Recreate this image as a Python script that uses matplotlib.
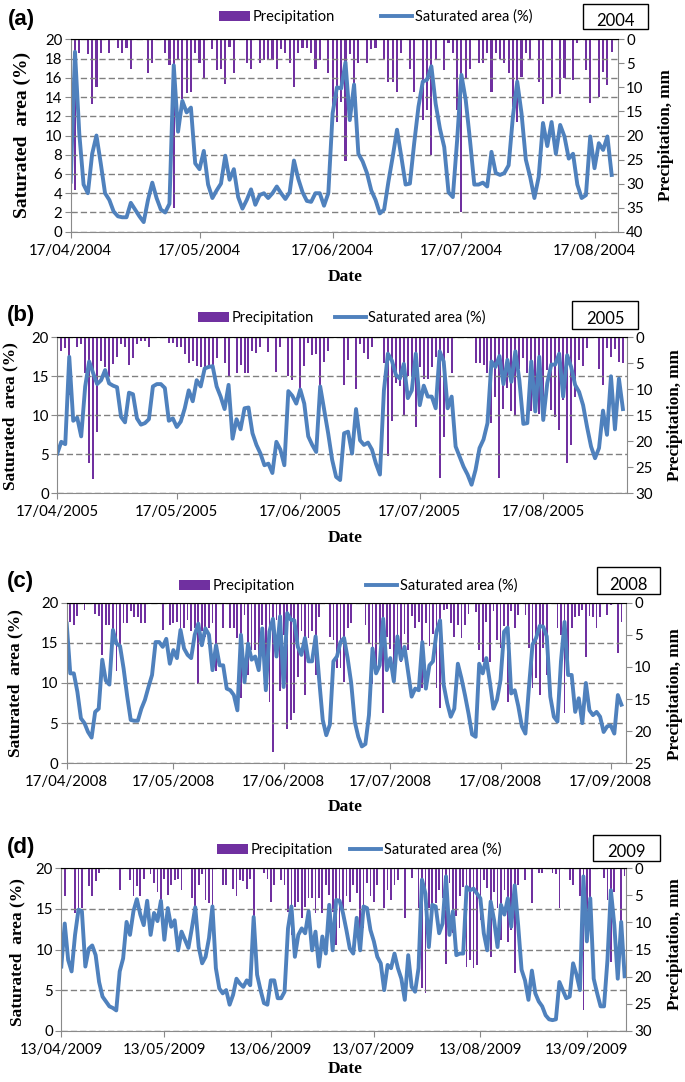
import numpy as np
import pandas as pd
import matplotlib
matplotlib.use("Agg")
import matplotlib.pyplot as plt
import matplotlib.dates as mdates
from matplotlib.patches import Rectangle

plt.rcParams["font.family"] = ["Lato", "DejaVu Sans"]

BLUE = "#4F81BD"
PURPLE = "#7030A0"
GREY = "#8a8a8a"

# ---------------- data (daily values) ----------------
# (a) 2004
sat_2004 = [5.2, 18.7, 10.2, 4.9, 4.0, 8.1, 10.0, 7.1, 4.0, 3.3,
            2.1, 1.6, 1.5, 1.5, 3.0, 2.3, 1.6, 1.0, 3.3, 5.1,
            3.5, 2.3, 2.0, 2.9, 17.3, 10.4, 13.6, 12.4, 12.9, 7.1,
            6.5, 8.4, 4.9, 3.5, 4.3, 5.0, 7.9, 5.4, 6.5, 3.6,
            2.4, 3.3, 4.4, 2.8, 3.8, 4.0, 3.5, 4.0, 4.7, 4.0,
            3.4, 4.1, 7.4, 5.5, 4.1, 3.2, 3.1, 4.0, 4.0, 2.7,
            4.0, 12.3, 15.0, 14.9, 17.6, 11.6, 15.3, 8.1, 7.3, 6.1,
            4.3, 3.3, 1.9, 2.3, 5.2, 7.8, 10.6, 7.8, 4.9, 5.0,
            9.2, 13.0, 15.6, 15.8, 17.2, 13.3, 10.7, 8.8, 4.1, 3.6,
            9.5, 16.3, 13.7, 9.5, 4.9, 4.9, 5.1, 4.7, 8.3, 6.1,
            5.9, 6.1, 6.9, 12.0, 15.6, 12.3, 7.5, 5.7, 3.5, 5.7,
            11.3, 8.9, 11.4, 8.1, 11.1, 9.9, 7.6, 8.1, 4.9, 3.5,
            3.8, 9.9, 6.6, 9.2, 8.5, 9.9, 5.9]
rain_day_2004 = [1, 2, 4, 5, 6, 7, 9, 11, 12, 13, 14, 18, 19, 22, 23, 24, 25, 26, 27, 28,
                 29, 30, 31, 33, 34, 35, 36, 37, 38, 41, 42, 44, 45, 46, 47, 48, 49, 50, 51, 52,
                 53, 54, 55, 56, 57, 58, 60, 61, 62, 63, 64, 65, 66, 67, 69, 70, 71, 73, 74, 75,
                 76, 77, 79, 80, 82, 83, 84, 85, 87, 88, 89, 90, 91, 92, 93, 95, 96, 97, 98, 99,
                 100, 101, 102, 103, 104, 105, 106, 107, 109, 110, 112, 114, 115, 117, 118, 120,
                 121, 123, 124, 125, 126]
rain_mm_2004 = [31.3, 2.9, 3.1, 13.5, 10.0, 2.8, 2.9, 1.9, 2.9, 1.9, 6.1, 7.0, 4.9, 2.9, 5.4, 35.1, 4.3, 12.5, 11.1, 10.9,
                2.9, 4.9, 8.3, 2.1, 6.4, 6.1, 9.2, 1.7, 7.0, 5.0, 6.1, 5.0, 4.2, 4.2, 4.2, 6.1, 2.1, 2.9, 4.9, 10.0,
                2.9, 1.9, 1.9, 2.9, 6.1, 4.2, 7.0, 14.9, 17.2, 13.0, 25.2, 3.0, 10.0, 4.9, 4.9, 2.1, 1.9, 4.0, 8.8, 8.8,
                10.9, 2.9, 6.1, 10.9, 16.8, 14.7, 24.1, 4.0, 6.4, 0.8, 2.9, 14.7, 36.0, 8.1, 6.1, 4.9, 4.9, 2.9, 10.9, 2.9,
                4.0, 5.0, 7.0, 14.1, 17.2, 7.9, 2.9, 4.0, 8.8, 13.4, 12.0, 11.3, 8.1, 8.5, 0.8, 6.4,
                13.2, 12.0, 6.7, 9.5, 2.6]

# (b) 2005
sat_2005 = [5.1, 6.6, 6.3, 17.5, 9.3, 9.7, 7.3, 13.7, 16.9, 15.4,
            14.0, 14.5, 15.8, 14.1, 13.8, 13.6, 9.8, 9.1, 12.9, 12.7,
            9.6, 8.8, 9.0, 9.5, 13.7, 14.0, 14.0, 13.5, 9.3, 9.6,
            8.5, 9.2, 10.9, 13.2, 11.8, 14.5, 13.7, 16.0, 16.2, 16.3,
            13.7, 12.4, 10.8, 13.9, 7.0, 9.5, 8.2, 10.9, 11.0, 7.7,
            6.2, 5.1, 3.6, 3.8, 2.6, 6.6, 5.6, 3.6, 13.1, 12.5,
            11.5, 13.3, 11.5, 7.3, 6.2, 5.3, 13.7, 10.7, 7.7, 4.3,
            2.1, 1.7, 7.7, 7.9, 5.1, 10.8, 6.8, 6.2, 6.5, 5.6,
            3.8, 2.4, 13.2, 17.9, 17.0, 15.2, 14.7, 16.6, 12.2, 13.2,
            17.9, 11.3, 13.8, 12.4, 12.4, 10.9, 18.2, 16.9, 10.9, 12.4,
            6.0, 4.7, 3.4, 2.4, 1.1, 3.0, 5.8, 6.9, 9.0, 16.9,
            16.2, 17.6, 14.0, 17.1, 14.3, 18.2, 14.5, 8.9, 9.0, 16.9,
            10.5, 17.5, 9.4, 14.1, 16.5, 16.5, 17.9, 12.4, 17.7, 16.2,
            13.9, 13.0, 11.3, 8.5, 6.0, 4.5, 5.8, 10.6, 7.5, 15.0,
            8.2, 14.7, 10.8]
rain_day_2005 = [0, 1, 2, 3, 5, 6, 7, 8, 9, 10, 11, 12, 13, 14, 15, 16, 17, 18, 19, 20,
                 21, 22, 23, 28, 29, 30, 31, 32, 33, 34, 35, 36, 37, 38, 39, 40, 42, 43, 45, 46,
                 47, 48, 49, 50, 51, 53, 55, 56, 58, 59, 61, 62, 63, 64, 65, 66, 67, 68, 72, 73,
                 75, 76, 77, 78, 79, 82, 83, 84, 85, 86, 87, 88, 89, 90, 91, 92, 93, 94, 95, 96,
                 97, 98, 99, 105, 106, 107, 108, 109, 110, 111, 112, 113, 114, 115, 116, 117, 118, 119,
                 120, 121, 122, 123, 124, 125, 126, 127, 128, 129, 130, 131, 132, 133,
                 136, 137, 138, 139, 140, 141, 142]
rain_mm_2005 = [2.3, 2.6, 2.1, 11.1, 1.9, 1.2, 6.9, 24.2, 27.3, 18.3, 4.5, 5.8, 7.6, 5.1, 3.7, 1.2, 1.9, 5.3, 4.0, 1.2,
                0.8, 0.8, 1.9, 1.0, 1.0, 1.8, 1.8, 3.2, 4.9, 4.5, 5.5, 5.8, 6.3, 5.8, 5.3, 4.0, 4.9, 7.7, 6.8, 5.3,
                6.8, 6.9, 2.6, 3.1, 1.9, 2.9, 6.6, 1.9, 7.4, 8.3, 9.8, 5.5, 1.0, 3.4, 3.2, 12.7, 4.7, 2.6, 9.2, 4.4,
                10.0, 1.2, 3.1, 4.2, 1.9, 5.0, 22.9, 16.0, 8.8, 9.4, 14.9, 7.4, 7.6, 17.2, 5.8, 8.1, 8.1, 5.8, 3.7, 27.1,
                19.2, 3.1, 6.9, 4.9, 4.9, 5.3, 6.9, 16.5, 11.4, 27.1, 13.7, 9.8, 14.1, 15.1, 6.0, 4.0, 6.9, 14.1,
                10.8, 14.7, 12.1, 6.3, 14.0, 15.3, 17.8, 12.1, 24.2, 20.7, 11.4, 4.4, 5.5, 2.1,
                6.0, 9.2, 2.1, 3.7, 2.3, 4.7, 5.0]

# (c) 2008
sat_2008 = [17.4, 11.2, 11.2, 8.9, 5.6, 5.0, 3.9, 3.2, 6.4, 6.8,
            12.9, 10.3, 9.8, 16.6, 14.9, 14.6, 11.8, 8.4, 5.4, 5.3,
            5.3, 6.8, 7.9, 9.5, 11.0, 15.1, 15.1, 14.5, 15.5, 12.4,
            14.1, 13.1, 16.6, 14.3, 13.5, 13.1, 16.0, 17.4, 14.7, 16.8,
            16.0, 11.6, 14.7, 12.2, 12.2, 9.3, 9.1, 8.5, 6.6, 16.0,
            10.1, 14.9, 12.9, 13.3, 11.6, 16.8, 9.1, 16.4, 18.0, 13.3,
            18.3, 9.5, 18.7, 17.9, 17.8, 14.5, 13.5, 15.6, 12.7, 12.7,
            15.8, 10.4, 5.4, 3.5, 4.8, 12.7, 13.3, 15.1, 15.6, 13.1,
            10.0, 5.2, 3.3, 2.1, 2.4, 6.0, 14.3, 11.2, 12.2, 18.0,
            11.6, 13.1, 10.2, 15.8, 12.9, 14.5, 11.4, 8.3, 9.3, 9.1,
            15.1, 9.3, 12.2, 12.7, 16.4, 17.8, 9.8, 7.5, 5.8, 6.8,
            12.4, 10.6, 8.5, 6.2, 3.6, 3.3, 12.4, 11.2, 13.1, 10.1,
            6.8, 7.9, 10.4, 16.4, 16.9, 8.7, 9.1, 7.1, 4.6, 3.7,
            9.5, 14.8, 15.6, 17.1, 17.0, 15.8, 8.3, 5.8, 5.2, 12.7,
            17.6, 11.0, 11.0, 6.4, 8.1, 5.0, 10.0, 6.6, 6.0, 6.4,
            5.8, 3.9, 4.6, 4.7, 3.7, 8.5, 7.3]
rain_day_2008 = [0, 1, 2, 3, 5, 8, 9, 10, 11, 12, 13, 14, 15, 16, 17, 18, 19, 20, 21, 22,
                 27, 29, 30, 31, 32, 33, 34, 35, 36, 37, 38, 39, 40, 41, 42, 44, 46, 47, 48, 49,
                 50, 51, 52, 53, 54, 55, 56, 57, 58, 59, 60, 61, 62, 63, 64, 65, 66, 67, 68, 69,
                 70, 71, 74, 75, 76, 77, 78, 79, 80,
                 84, 85, 86, 87, 88, 89, 90, 91, 92, 93, 94, 95, 96, 97, 98, 99, 100, 101, 102, 103,
                 104, 105, 106, 107, 108, 109, 110, 111, 112, 113,
                 115, 116, 117, 118, 119, 120, 121, 122, 123, 124, 125, 126, 127,
                 129, 130, 131, 132, 133, 134, 135,
                 138, 139, 140, 141, 142, 143, 144, 145, 146, 147, 148, 149, 150,
                 152, 153, 155, 156]
rain_mm_2008 = [10.5, 3.0, 3.4, 2.0, 1.1, 1.8, 2.0, 8.1, 3.4, 3.4, 5.5, 10.6, 7.1, 3.2, 3.2, 1.3, 2.2, 2.2, 3.1, 3.2,
                4.3, 3.4, 3.2, 3.0, 5.5, 4.0, 2.7, 4.4, 4.0, 12.6, 4.4, 5.3, 4.0, 3.2, 10.7, 3.9, 4.0, 4.0, 5.5, 14.9,
                1.9, 11.3, 7.4, 7.4, 10.5, 3.5, 13.6, 15.4, 23.2, 2.7, 13.8, 5.0, 19.6, 18.3, 17.2, 11.5, 4.4, 14.4, 5.5, 4.4,
                11.3, 2.2, 5.3, 5.8, 10.2, 10.2, 12.3, 4.0, 3.2,
                3.4, 6.3, 12.6, 11.0, 6.3, 17.2, 5.3, 7.2, 12.3, 5.8, 9.2, 4.8, 7.4, 2.0, 4.0, 3.0, 13.3, 3.2, 6.8, 4.8,
                13.3, 16.4, 1.1, 1.0, 3.2, 5.4, 3.4, 5.5, 3.4, 1.7,
                1.4, 7.4, 9.2, 3.0, 9.2, 1.3, 5.8, 7.1, 3.7, 15.4, 1.3, 4.0, 1.9,
                1.9, 7.1, 13.3, 11.7, 14.4, 7.1, 11.3,
                4.0, 5.0, 17.2, 11.3, 4.0, 2.2, 2.0, 1.1, 8.4, 2.0, 2.3, 4.0, 2.2,
                1.9, 0.4, 7.9, 3.0]

# (d) 2009
sat_2009 = [7.9, 13.2, 8.7, 7.3, 11.8, 14.9, 14.7, 7.9, 10.1, 10.5,
            9.3, 6.0, 4.2, 3.6, 3.0, 2.8, 2.5, 7.3, 8.9, 13.4,
            11.8, 14.7, 16.2, 14.3, 13.0, 16.0, 11.8, 14.5, 13.5, 16.0,
            11.2, 15.1, 12.8, 13.6, 9.9, 12.2, 11.2, 10.2, 12.6, 15.2,
            10.3, 8.3, 9.1, 11.4, 15.3, 7.7, 5.2, 4.6, 5.0, 3.2,
            4.4, 6.4, 5.8, 5.4, 6.2, 5.6, 14.0, 6.9, 5.0, 3.4,
            3.2, 6.2, 6.2, 4.0, 4.0, 4.8, 12.6, 15.3, 9.1, 11.8,
            12.6, 12.0, 14.7, 9.9, 12.2, 7.9, 11.6, 9.5, 15.5, 9.9,
            16.1, 16.0, 14.5, 12.4, 10.1, 9.5, 13.9, 9.9, 15.3, 15.1,
            12.4, 11.0, 9.1, 8.3, 5.0, 8.1, 7.7, 9.5, 7.7, 6.4,
            3.8, 9.3, 5.4, 4.8, 7.7, 18.6, 16.9, 10.3, 15.5, 15.3,
            12.0, 13.2, 19.0, 11.8, 14.7, 9.3, 9.5, 9.5, 17.7, 17.3,
            17.5, 16.9, 16.3, 12.0, 9.9, 15.9, 13.6, 10.3, 15.5, 14.3,
            16.3, 12.8, 17.9, 13.0, 7.5, 6.2, 3.8, 7.4, 4.6, 3.6,
            3.0, 1.9, 1.4, 1.3, 1.4, 6.0, 5.0, 4.0, 4.2, 8.3,
            6.9, 5.0, 19.0, 11.0, 16.3, 6.4, 4.6, 3.0, 3.0, 8.7,
            17.3, 13.0, 6.4, 13.4, 6.7]
rain_day_2009 = [1, 4, 5, 6, 8, 9, 10, 11, 17, 20, 21, 22, 23, 24, 26, 27, 28, 29, 30, 31,
                 32, 33, 34, 35, 38, 39, 40, 41, 42, 43, 44, 47, 48, 50, 51, 52, 53, 54, 55, 56,
                 59, 60, 61, 62, 64, 65, 66, 67, 68, 69, 70, 71, 72, 73, 74, 75, 76, 77, 78, 79,
                 80, 81, 82, 83, 84, 85, 86, 87, 88, 89, 90, 91, 92, 94, 95, 96, 97, 98, 100, 102,
                 104, 105, 106, 107, 108, 109, 110, 111, 112, 113, 114, 115, 116, 117, 118, 119,
                 120, 121, 122, 123, 124, 125, 126, 127, 128, 129, 130, 131, 132, 133, 135, 137,
                 139, 140, 143, 144, 145, 148, 149, 151, 152, 153, 154, 158, 159, 160, 161, 163, 164]
rain_mm_2009 = [5.2, 8.3, 8.0, 7.4, 3.2, 5.2, 2.3, 0.9, 4.0, 2.2, 5.2, 3.2, 5.2, 2.0, 1.1, 2.8, 4.3, 5.9, 2.0, 4.9,
                3.1, 2.2, 2.0, 4.0, 5.5, 8.3, 3.0, 1.1, 5.9, 6.5, 7.1, 3.0, 3.0, 3.8, 5.1, 2.2, 2.3, 3.8, 2.0, 8.9,
                0.9, 2.0, 6.2, 3.0, 2.2, 3.0, 8.0, 12.3, 7.1, 6.3, 9.2, 7.1, 5.5, 5.5, 8.3, 5.5, 8.3, 3.1, 4.9, 8.0,
                14.2, 11.1, 8.9, 5.2, 6.2, 3.1, 4.6, 12.3, 11.1, 2.8, 5.2, 6.2, 3.1, 7.4, 4.0, 5.9, 3.1, 2.2, 9.2, 1.8,
                7.4, 22.2, 23.1, 7.4, 6.8, 6.5, 4.0, 5.5, 17.6, 2.8, 12.0, 8.9, 5.2, 3.4, 18.2, 16.9,
                18.5, 17.9, 9.6, 2.2, 3.7, 16.3, 4.3, 7.4, 13.2, 4.0, 13.6, 11.4, 19.4, 3.1, 2.2, 6.5,
                0.9, 0.9, 0.9, 1.1, 7.4, 2.2, 3.1, 5.2, 26.2, 12.6, 11.4, 1.8, 5.9, 17.3, 4.3, 13.9, 1.5]

ticks_2004 = ["2004-04-17", "2004-05-17", "2004-06-17", "2004-07-17", "2004-08-17"]
ticks_2005 = ["2005-04-17", "2005-05-17", "2005-06-17", "2005-07-17", "2005-08-17"]
ticks_2008 = ["2008-04-17", "2008-05-17", "2008-06-17", "2008-07-17", "2008-08-17", "2008-09-17"]
ticks_2009 = ["2009-04-13", "2009-05-13", "2009-06-13", "2009-07-13", "2009-08-13", "2009-09-13"]

# ---------------- layout (pixel positions in a 685 x 1082 canvas) ----------------
W, H = 685, 1082
fig = plt.figure(figsize=(W / 100, H / 100), dpi=100)


def fx(px):
    return px / W


def fy(py):
    return 1 - py / H


panels = [
    dict(tag="(a)", year="2004", start="2004-04-17", span=127.4, sat=sat_2004,
         rday=rain_day_2004, rmm=rain_mm_2004, ticks=ticks_2004, lstep=2, rmax=40,
         box=(70.7, 617.7, 39.3, 231.7), tag_xy=(21, 20), leg=(219, 17), colsp=3.2,
         ybox=(583, 648, 4, 29), ylab=(22, 135, 14), rlab=(666, 135), date_y=277),
    dict(tag="(b)", year="2005", start="2005-04-17", span=143.1, sat=sat_2005,
         rday=rain_day_2005, rmm=rain_mm_2005, ticks=ticks_2005, lstep=5, rmax=30,
         box=(57.3, 627.3, 337.3, 493.3), tag_xy=(21, 315), leg=(198, 318), colsp=1.45,
         ybox=(572, 638, 301, 329), ylab=(10, 416, 12.5), rlab=(675, 415), date_y=538),
    dict(tag="(c)", year="2008", start="2008-04-17", span=157.2, sat=sat_2008,
         rday=rain_day_2008, rmm=rain_mm_2008, ticks=ticks_2008, lstep=5, rmax=25,
         box=(66.7, 625.7, 602.7, 763.3), tag_xy=(20, 581), leg=(179, 586), colsp=4.9,
         ybox=(597, 660, 567, 594), ylab=(15, 683, 12.5), rlab=(675, 694), date_y=807),
    dict(tag="(d)", year="2009", start="2009-04-13", span=164.4, sat=sat_2009,
         rday=rain_day_2009, rmm=rain_mm_2009, ticks=ticks_2009, lstep=5, rmax=30,
         box=(61.3, 626.0, 868.3, 1030.7), tag_xy=(21, 847), leg=(217, 850), colsp=1.2,
         ybox=(593, 660, 835, 861), ylab=(17, 952, 12.5), rlab=(675, 944), date_y=1069),
]

serif = dict(family="Liberation Serif", weight="bold")

for p in panels:
    l, r, t, b = p["box"]
    ax = fig.add_axes([fx(l), fy(b), (r - l) / W, (b - t) / H])
    ax2 = ax.twinx()
    ax.set_zorder(ax2.get_zorder() + 1)
    ax.patch.set_visible(False)

    start = pd.Timestamp(p["start"])
    dates = pd.date_range(start, periods=len(p["sat"]), freq="D")
    rdates = start + pd.to_timedelta(p["rday"], unit="D")

    bars = ax2.bar(rdates, p["rmm"], width=0.5, color=PURPLE, linewidth=0)
    line, = ax.plot(dates, p["sat"], color=BLUE, lw=2.8, solid_joinstyle="round")

    ax.set_xlim(start, start + pd.Timedelta(days=p["span"]))
    ax.set_xticks(pd.to_datetime(p["ticks"]))
    ax.xaxis.set_major_formatter(mdates.DateFormatter("%d/%m/%Y"))

    ax.set_ylim(0, 20)
    ax.set_yticks(np.arange(0, 21, p["lstep"]))
    ax2.set_ylim(p["rmax"], 0)
    ax2.set_yticks(np.arange(0, p["rmax"] + 1, 5))

    ax.yaxis.grid(True, linestyle=(0, (4.5, 2.2)), color="#808080", lw=1.0)

    for s in ["left", "bottom"]:
        ax.spines[s].set_color(GREY)
    ax.spines["top"].set_color("black")
    ax.spines["right"].set_visible(False)
    for s in ["left", "bottom", "top"]:
        ax2.spines[s].set_visible(False)
    ax2.spines["right"].set_color(GREY)

    ax.tick_params(axis="x", direction="out", length=4, color=GREY, pad=4.5, labelsize=10.8)
    ax.tick_params(axis="y", direction="out", length=4, color=GREY, pad=2, labelsize=10.8)
    ax2.tick_params(axis="y", direction="out", length=4, color=GREY, pad=2, labelsize=10.8)

    fig.legend([bars, line], ["Precipitation", "Saturated area (%)"],
               loc="center left", bbox_to_anchor=(fx(p["leg"][0]), fy(p["leg"][1])),
               ncol=2, frameon=False, fontsize=10.5, handlelength=2.1, handleheight=0.65,
               handletextpad=0.2, columnspacing=p["colsp"], borderpad=0, borderaxespad=0)

    x0, x1, y0, y1 = p["ybox"]
    fig.add_artist(Rectangle((fx(x0), fy(y1)), (x1 - x0) / W, (y1 - y0) / H,
                             transform=fig.transFigure, fill=False, ec="black", lw=1.0))
    fig.text(fx((x0 + x1) / 2), fy((y0 + y1) / 2 + 4), p["year"], ha="center", va="center", fontsize=12)

    fig.text(fx(p["tag_xy"][0]), fy(p["tag_xy"][1]), p["tag"], ha="center", va="center",
             fontsize=16, fontweight="bold", family="Liberation Sans")

    lx, ly, lfs = p["ylab"]
    fig.text(fx(lx), fy(ly), "Saturated  area (%)", rotation=90, ha="center", va="center",
             fontsize=lfs, **serif)
    fig.text(fx(p["rlab"][0]), fy(p["rlab"][1]), "Precipitation, mm", rotation=90,
             ha="center", va="center", fontsize=12.3, **serif)
    fig.text(fx(345), fy(p["date_y"]), "Date", ha="center", va="center", fontsize=12.5, **serif)

fig.savefig("out.png", dpi=100)
